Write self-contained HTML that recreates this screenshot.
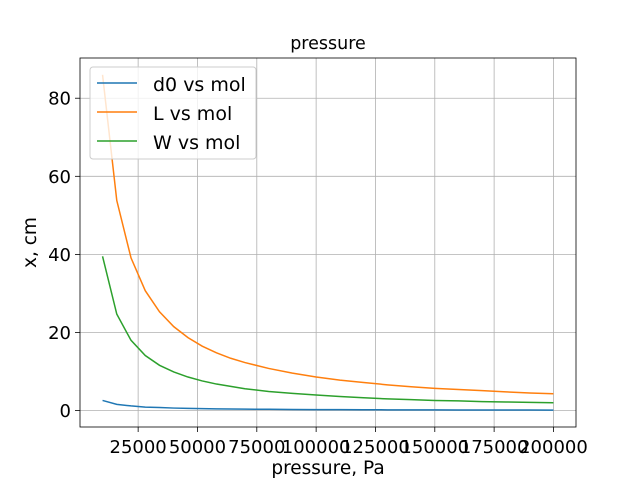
<!DOCTYPE html>
<html><head><meta charset="utf-8"><style>
body{margin:0;background:#fff}
svg text{font-family:"DejaVu Sans","Liberation Sans",sans-serif;fill:#000}
</style></head><body>
<svg id="chart" width="640" height="480"></svg>
<script>
const pressures=[10000,16000,22000,28000,34000,40000,46000,52000,58000,64000,70000,80000,90000,100000,110000,120000,130000,140000,150000,160000,170000,180000,190000,200000];
const d0Values=[2.6,1.6,1.2,0.9,0.8,0.65,0.57,0.5,0.45,0.41,0.37,0.33,0.29,0.26,0.24,0.22,0.2,0.19,0.17,0.16,0.15,0.14,0.14,0.13];
const LValues=[86,53.8,39.1,30.7,25.3,21.5,18.7,16.5,14.8,13.4,12.3,10.8,9.6,8.6,7.8,7.2,6.6,6.1,5.7,5.4,5.1,4.8,4.5,4.3];
const WValues=[39.5,24.7,18.0,14.1,11.6,9.9,8.6,7.6,6.8,6.2,5.6,4.9,4.4,4.0,3.6,3.3,3.0,2.8,2.6,2.5,2.3,2.2,2.1,2.0];
const xTicks=[25000,50000,75000,100000,125000,150000,175000,200000];
const yTicks=[0,20,40,60,80];
const seriesNames=["d0 vs mol","L vs mol","W vs mol"];
const seriesColors=["#1f77b4","#ff7f0e","#2ca02c"];

const NS="http://www.w3.org/2000/svg";
const svg=document.getElementById('chart');
const L=80,R=576,T=58,B=427;
const xmin=500,xmax=209500,ymin=-4.2,ymax=90.3;
const sx=v=>L+(v-xmin)/(xmax-xmin)*(R-L);
const sy=v=>B-(v-ymin)/(ymax-ymin)*(B-T);
function mk(tag,attrs,parent){const e=document.createElementNS(NS,tag);for(const k in attrs)e.setAttribute(k,attrs[k]);(parent||svg).appendChild(e);return e;}

const grid=mk('g',{});


xTicks.forEach(v=>{
  const x=sx(v);
  mk('line',{x1:x,x2:x,y1:T,y2:B,stroke:'#b0b0b0','stroke-width':0.8},grid);
  mk('line',{x1:x,x2:x,y1:B,y2:B+5,stroke:'#000','stroke-width':0.8});
  const t=mk('text',{x:x,y:453,'font-size':18,'text-anchor':'middle'});
  t.textContent=v;
  
  
});
yTicks.forEach(v=>{
  const y=sy(v);
  mk('line',{x1:L,x2:R,y1:y,y2:y,stroke:'#b0b0b0','stroke-width':0.8},grid);
  mk('line',{x1:L-5,x2:L,y1:y,y2:y,stroke:'#000','stroke-width':0.8});
  const t=mk('text',{x:L-9,y:y+6.5,'font-size':18,'text-anchor':'end'});
  t.textContent=v;
  
  
});
[d0Values,LValues,WValues].forEach((vals,i)=>{
  const p=mk('polyline',{fill:'none',stroke:seriesColors[i],'stroke-width':1.5,points:pressures.map((x,j)=>sx(x)+','+sy(vals[j])).join(' ')});
  
  
});
const frame=mk('rect',{x:L,y:T,width:R-L,height:B-T,fill:'none',stroke:'#000','stroke-width':0.8});



const title=mk('text',{x:(L+R)/2,y:49,'font-size':17.5,'text-anchor':'middle'});
title.textContent='pressure';


const xl=mk('text',{x:(L+R)/2,y:474,'font-size':18.5,'text-anchor':'middle'});
xl.textContent='pressure, Pa';


const yl=mk('text',{x:0,y:0,'font-size':18.5,'text-anchor':'middle',transform:'translate(36,'+((T+B)/2)+') rotate(-90)'});
yl.textContent='x, cm';



const lg=mk('g',{});


mk('rect',{x:90,y:67,width:166,height:92,rx:3,fill:'#fff','fill-opacity':0.8,stroke:'#ccc','stroke-width':1},lg);
seriesNames.forEach((n,i)=>{
  const y=83+i*29;
  mk('line',{x1:97,x2:137,y1:y,y2:y,stroke:seriesColors[i],'stroke-width':1.5},lg);
  const t=mk('text',{x:153,y:y+8,'font-size':19},lg);
  t.textContent=n;
  
  
});
</script>
</body></html>
